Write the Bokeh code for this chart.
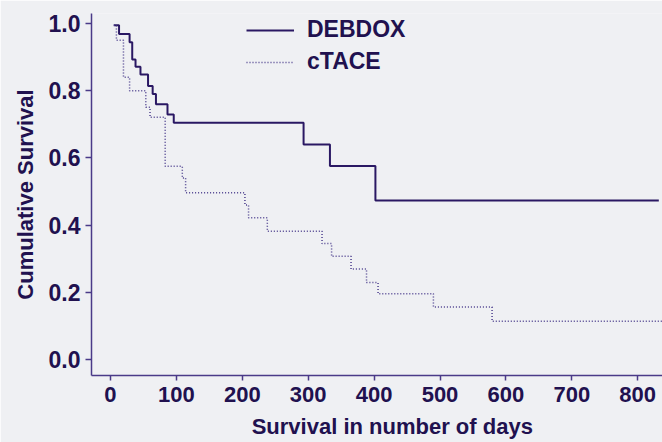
from bokeh.plotting import figure
from bokeh.models import (Range1d, FixedTicker, PrintfTickFormatter, Legend, LegendItem)
from bokeh.embed import file_html
from bokeh.resources import INLINE

# ---- data ----
debdox_days = [5, 13, 29, 33, 38, 45.5, 57, 64, 69, 86.5, 96, 293, 333, 402, 832]
debdox_surv = [0.995, 0.969, 0.944, 0.893, 0.871, 0.848, 0.814, 0.79, 0.76, 0.729, 0.705, 0.64, 0.576, 0.473, 0.473]

ctace_days = [5, 9, 19.7, 29, 53.6, 60, 83, 109, 114, 204, 209.5, 238, 321, 335.5, 365, 388.5, 406, 490, 579, 838]
ctace_surv = [0.995, 0.95, 0.84, 0.80, 0.751, 0.721, 0.575, 0.54, 0.496, 0.46, 0.422, 0.382, 0.345, 0.307, 0.269, 0.229, 0.196, 0.156, 0.114, 0.114]

x_ticks = [0, 100, 200, 300, 400, 500, 600, 700, 800]
y_ticks = [0.0, 0.2, 0.4, 0.6, 0.8, 1.0]
series_names = ["DEBDOX", "cTACE"]
x_title = "Survival in number of days"
y_title = "Cumulative Survival"

BG = "#eff0f3"
TEXT = "#21114f"
AXIS = "#4a3a88"
LINE1 = "#2a1863"
LINE2 = "#4a3c8c"
FONT = "Liberation Sans"

p = figure(width=662, height=442, output_backend="svg", toolbar_location=None,
           x_range=Range1d(-28.8, 837.6), y_range=Range1d(-0.0476, 1.0298),
           min_border_left=91, min_border_right=0, min_border_top=13, min_border_bottom=67)
p.background_fill_color = BG
p.border_fill_color = BG
p.outline_line_color = None
p.grid.visible = False

r1 = p.step(debdox_days, debdox_surv, mode="after", line_color=LINE1, line_width=2)
r2 = p.step(ctace_days, ctace_surv, mode="after", line_color=LINE2, line_width=1.5, line_dash="1 2")

for ax in (p.xaxis[0], p.yaxis[0]):
    ax.axis_line_color = AXIS
    ax.axis_line_width = 1.5
    ax.major_tick_line_color = AXIS
    ax.major_tick_line_width = 1.5
    ax.major_tick_in = 0
    ax.minor_tick_line_color = None
    ax.major_label_text_font = FONT
    ax.major_label_text_font_style = "bold"
    ax.major_label_text_color = TEXT
    ax.major_label_text_font_size = "22px"
    ax.axis_label_text_font = FONT
    ax.axis_label_text_font_style = "bold"
    ax.axis_label_text_font_size = "22px"
    ax.axis_label_text_color = TEXT

p.yaxis.major_label_text_font_size = "23px"
p.xaxis.ticker = FixedTicker(ticks=x_ticks)
p.yaxis.ticker = FixedTicker(ticks=y_ticks)
p.yaxis.formatter = PrintfTickFormatter(format="%.1f")
p.xaxis.major_tick_out = 5
p.yaxis.major_tick_out = 6
p.xaxis.major_label_standoff = 6
p.yaxis.major_label_standoff = 5

p.yaxis.axis_label = y_title
p.yaxis.axis_label_standoff = 8

# leading no-break spaces nudge the centred title right, as in the reference
p.xaxis.axis_label = "\u00a0" * 5 + x_title
p.xaxis.axis_label_standoff = 9

legend = Legend(items=[LegendItem(label=series_names[0], renderers=[r1]),
                       LegendItem(label=series_names[1], renderers=[r2])],
                location=(155, 300), orientation="vertical",
                glyph_width=48, glyph_height=20, label_height=20, spacing=5,
                label_standoff=13, padding=0, margin=0,
                border_line_color=None, background_fill_alpha=0,
                label_text_font=FONT, label_text_font_style="bold",
                label_text_font_size="23px", label_text_color=TEXT)
p.add_layout(legend)

open("out.html", "w").write(file_html(p, INLINE))
